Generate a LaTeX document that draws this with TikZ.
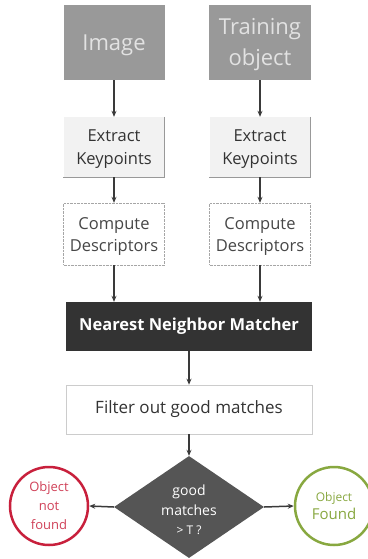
\documentclass[tikz,border=0pt]{standalone}
\usepackage{fontspec}
\setmainfont{Open Sans}
\usetikzlibrary{shapes.geometric,arrows.meta}
\definecolor{boxgray}{HTML}{999999}
\definecolor{lightfill}{HTML}{F2F2F2}
\definecolor{dark}{HTML}{333333}
\definecolor{diagray}{HTML}{555555}
\definecolor{linecol}{HTML}{3A3A3A}
\definecolor{redc}{HTML}{C8203C}
\definecolor{greenc}{HTML}{88A840}
\definecolor{intext}{HTML}{E2E2E2}
\tikzset{
  inbox/.style={fill=boxgray, text=intext, minimum width=101pt, minimum height=75pt, align=center, inner sep=0pt, font=\fontsize{22}{31}\selectfont},
  extbox/.style={fill=lightfill, text=dark, minimum width=101pt, minimum height=60pt, align=center, inner sep=0pt, font=\fontsize{16.5}{23}\selectfont},
  cmpbox/.style={fill=white, draw=gray!70, densely dotted, text=dark!90, minimum width=101pt, minimum height=62pt, align=center, inner sep=0pt, font=\fontsize{16.5}{22}\selectfont},
  widebox/.style={minimum width=246pt, minimum height=49pt, align=center, inner sep=0pt, font=\fontsize{16.5}{20}\selectfont},
  conn/.style={draw=linecol, line width=1.5pt, -{Stealth[length=6pt,width=5pt]}},
  endcirc/.style={circle, line width=2.5pt, minimum size=78pt, inner sep=0pt, align=center, fill=white},
}
\begin{document}
\begin{tikzpicture}[x=1pt,y=-1pt]
\useasboundingbox (0,0) rectangle (367,559);
% inputs
\node[inbox] (img) at (114,42.5) {};
\node[text=intext, font=\fontsize{22}{31}\selectfont] (imgt) at (114,45) {Image};
\node[inbox, minimum width=102pt] (trn) at (260,42.5) {};
\node[text=intext, font=\fontsize{22}{31}\selectfont, align=center, inner sep=0pt] (trnt) at (260,45) {Training\\object};
% extract
\node[extbox] (ext1) at (114,147) {};
\node[text=dark, font=\fontsize{16.5}{23}\selectfont, align=center, inner sep=0pt] (ext1t) at (114,149) {Extract\\Keypoints};
\node[extbox] (ext2) at (260,147) {};
\node[text=dark, font=\fontsize{16.5}{23}\selectfont, align=center, inner sep=0pt] (ext2t) at (260,149) {Extract\\Keypoints};
\draw[gray!80, line width=0.8pt] (ext1.north east) -- (ext1.south east) -- (ext1.south west);
\draw[gray!80, line width=0.8pt] (ext2.north east) -- (ext2.south east) -- (ext2.south west);
% compute
\node[cmpbox] (cmp1) at (114,234) {};
\node[text=dark!90, font=\fontsize{16.5}{22}\selectfont, align=center, inner sep=0pt] (cmp1t) at (114,237) {Compute\\Descriptors};
\node[cmpbox] (cmp2) at (260,234) {};
\node[text=dark!90, font=\fontsize{16.5}{22}\selectfont, align=center, inner sep=0pt] (cmp2t) at (260,237) {Compute\\Descriptors};
% matcher
\node[widebox, fill=dark, text=white, font=\fontsize{16.5}{20}\selectfont\bfseries] (nnm) at (189,326.5) {Nearest Neighbor Matcher};
\node[widebox, fill=white, draw=gray!40, line width=0.6pt, text=dark, font=\fontsize{17}{20}\selectfont] (flt) at (189,409.5) {Filter out good matches};
% decision
\node[diamond, fill=diagray, minimum width=150pt, minimum height=102pt, inner sep=0pt] (dia) at (189,507) {};
\node[text=white, align=center, inner sep=0pt, font=\fontsize{14}{19.5}\selectfont] (diat) at (189,510) {good\\matches\\{\fontsize{12}{14}\selectfont > T ?}};
\node[endcirc, draw=redc, text=redc!85, font=\fontsize{13}{19}\selectfont] (nf) at (49,506) {Object\\not\\found};
\node[endcirc, draw=greenc, text=greenc, font=\fontsize{12}{18}\selectfont] (fd) at (334,506) {{\fontsize{12}{14}\selectfont Object}\\{\fontsize{15}{17}\selectfont Found}};
% connectors
\draw[conn] (img) -- (ext1);
\draw[conn] (trn) -- (ext2);
\draw[conn] (ext1) -- (cmp1);
\draw[conn] (ext2) -- (cmp2);
\draw[conn] (cmp1.south) -- (cmp1.south |- nnm.north);
\draw[conn] (cmp2.south) -- (cmp2.south |- nnm.north);
\draw[conn] (nnm) -- (flt);
\draw[conn] (flt.south) -- (dia.north);
\draw[conn] (dia.west) -- (nf.east);
\draw[conn] (dia.east) -- (fd.west);
\end{tikzpicture}
\end{document}
